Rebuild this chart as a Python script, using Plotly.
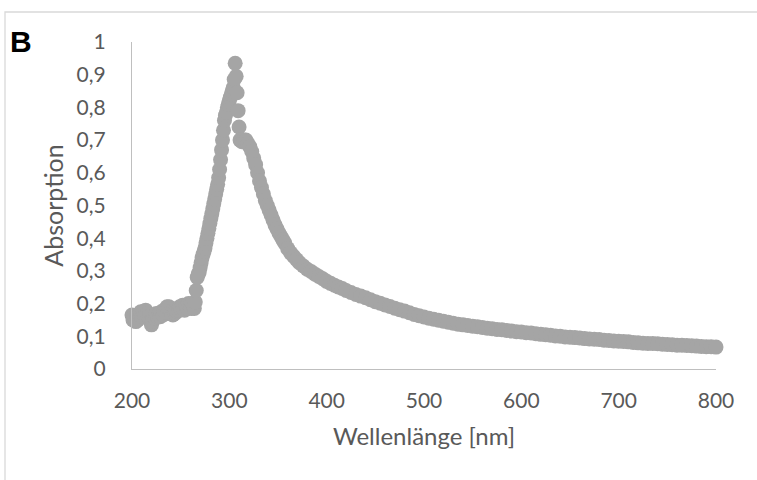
import plotly.graph_objects as go

# UV-Vis absorption spectrum (wavelength in nm, absorbance)
wavelength_nm = [
    200, 201, 202, 204, 205, 206, 208, 209, 210, 212, 213, 214, 216, 217, 218, 219, 220, 221,
    222, 224, 225, 226, 228, 229, 230, 232, 233, 234, 236, 237, 238, 240, 241, 242, 244, 245,
    246, 248, 249, 250, 252, 253, 254, 256, 257, 258, 260, 261, 262, 263, 264, 265,
    266, 267, 268, 269, 270, 271, 272, 273, 274, 275, 276, 277, 278, 279, 280, 281, 282, 283,
    284, 285, 286, 287, 288, 289, 290, 291, 292, 293, 294, 295, 296, 297, 298, 299, 300, 301,
    302, 303, 304, 305, 306, 307, 308, 309, 310, 311, 313, 315, 317, 319, 321, 323, 325, 327,
    329, 331, 333, 335, 337, 339, 341, 343, 345, 347, 349, 351, 353, 355, 357, 360, 363, 366,
    369, 372, 376, 380, 384, 388, 392, 396, 400, 404, 408, 412, 416, 420, 425, 430, 435, 440,
    445, 450, 455, 460, 465, 470, 475, 480, 485, 490, 495, 500, 505, 510, 515, 520, 525, 530,
    535, 540, 545, 550, 555, 560, 565, 570, 575, 580, 585, 590, 595, 600, 605, 610, 615, 620,
    625, 630, 635, 640, 645, 650, 655, 660, 665, 670, 675, 680, 685, 690, 695, 700, 705, 710,
    715, 720, 725, 730, 735, 740, 745, 750, 755, 760, 765, 770, 775, 780, 785, 790, 795, 800,
]
absorption = [
    0.165, 0.150, 0.160, 0.145, 0.160, 0.150, 0.165, 0.175, 0.160, 0.175, 0.165, 0.180, 0.170, 0.160, 0.155, 0.145, 0.135, 0.145,
    0.160, 0.155, 0.170, 0.160, 0.170, 0.160, 0.175, 0.165, 0.180, 0.175, 0.190, 0.185, 0.190, 0.175, 0.170, 0.165, 0.170, 0.180,
    0.175, 0.180, 0.190, 0.185, 0.195, 0.185, 0.180, 0.190, 0.185, 0.200, 0.195, 0.185, 0.200, 0.190, 0.185, 0.205,
    0.240, 0.280, 0.290, 0.295, 0.310, 0.325, 0.340, 0.350, 0.360, 0.370, 0.385, 0.400, 0.415, 0.430, 0.445, 0.460, 0.475, 0.490,
    0.505, 0.520, 0.535, 0.550, 0.565, 0.585, 0.610, 0.640, 0.670, 0.700, 0.730, 0.760, 0.775, 0.785, 0.800, 0.810, 0.820, 0.830,
    0.840, 0.850, 0.860, 0.885, 0.935, 0.895, 0.845, 0.790, 0.740, 0.700, 0.695, 0.700, 0.700, 0.690, 0.680, 0.665, 0.645, 0.625,
    0.600, 0.575, 0.555, 0.535, 0.515, 0.500, 0.485, 0.470, 0.455, 0.440, 0.428, 0.416, 0.405, 0.395, 0.385, 0.368, 0.355, 0.345,
    0.335, 0.325, 0.315, 0.305, 0.298, 0.290, 0.283, 0.276, 0.268, 0.262, 0.256, 0.251, 0.246, 0.240, 0.234, 0.228, 0.223, 0.218,
    0.212, 0.206, 0.201, 0.196, 0.191, 0.186, 0.181, 0.177, 0.172, 0.167, 0.163, 0.159, 0.155, 0.152, 0.149, 0.146, 0.143, 0.140,
    0.137, 0.135, 0.133, 0.131, 0.129, 0.127, 0.125, 0.123, 0.121, 0.120, 0.118, 0.116, 0.114, 0.113, 0.111, 0.110, 0.108, 0.106,
    0.105, 0.103, 0.101, 0.100, 0.098, 0.097, 0.096, 0.095, 0.093, 0.092, 0.091, 0.090, 0.088, 0.087, 0.086, 0.085, 0.084, 0.083,
    0.081, 0.080, 0.079, 0.078, 0.078, 0.077, 0.076, 0.075, 0.074, 0.073, 0.073, 0.072, 0.071, 0.070, 0.069, 0.068, 0.068, 0.067,
]

x_ticks = [200, 300, 400, 500, 600, 700, 800]
y_ticks = [0, 0.1, 0.2, 0.3, 0.4, 0.5, 0.6, 0.7, 0.8, 0.9, 1]
y_tick_text = ["0", "0,1", "0,2", "0,3", "0,4", "0,5", "0,6", "0,7", "0,8", "0,9", "1"]

W, H = 757, 480
ML, MR, MT, MB = 132, 41, 42, 111
PW, PH = W - ML - MR, H - MT - MB

def px_to_paper(px, py):
    return (px - ML) / PW, (H - MB - py) / PH

FONT = "Lato, 'Open Sans', sans-serif"
TICK_COLOR = "#595959"

fig = go.Figure()
fig.add_trace(go.Scatter(
    x=wavelength_nm,
    y=absorption,
    mode="markers",
    marker=dict(size=15, color="#A5A5A5", line=dict(width=0)),
    cliponaxis=False,
    showlegend=False,
    hoverinfo="x+y",
))

axis_common = dict(
    showgrid=False,
    zeroline=False,
    showline=True,
    linecolor="#BFBFBF",
    linewidth=1.3,
    ticks="outside",
    tickcolor="rgba(0,0,0,0)",
    tickfont=dict(family=FONT, size=21, color=TICK_COLOR),
)

fig.update_xaxes(
    range=[200, 800],
    tickmode="array",
    tickvals=x_ticks,
    ticktext=[str(v) for v in x_ticks],
    ticklen=13,
    title=dict(text="Wellenlänge [nm]", font=dict(family=FONT, size=24, color=TICK_COLOR), standoff=16),
    **axis_common,
)
fig.update_yaxes(
    range=[0, 1],
    tickmode="array",
    tickvals=y_ticks,
    ticktext=y_tick_text,
    ticklen=21,
    title=dict(text="Absorption", font=dict(family=FONT, size=25, color=TICK_COLOR), standoff=5),
    **axis_common,
)

# Chart frame (top and left edges visible)
x0, y0 = px_to_paper(5, 12)
x1, y1 = px_to_paper(W + 5, H + 5)
fig.add_shape(type="rect", xref="paper", yref="paper", x0=x0, y0=y1, x1=x1, y1=y0,
              line=dict(color="#D9D9D9", width=1.3), fillcolor="rgba(0,0,0,0)", layer="below")

# Panel letter
bx, by = px_to_paper(21, 41)
fig.add_annotation(x=bx, y=by, xref="paper", yref="paper", text="<b>B</b>", showarrow=False,
                   xanchor="center", yanchor="middle",
                   font=dict(family="'Liberation Sans', Arial, sans-serif", size=30, color="#000000"))

fig.update_layout(
    width=W,
    height=H,
    margin=dict(l=ML, r=MR, t=MT, b=MB),
    paper_bgcolor="white",
    plot_bgcolor="white",
)

fig.write_html("out.html")
